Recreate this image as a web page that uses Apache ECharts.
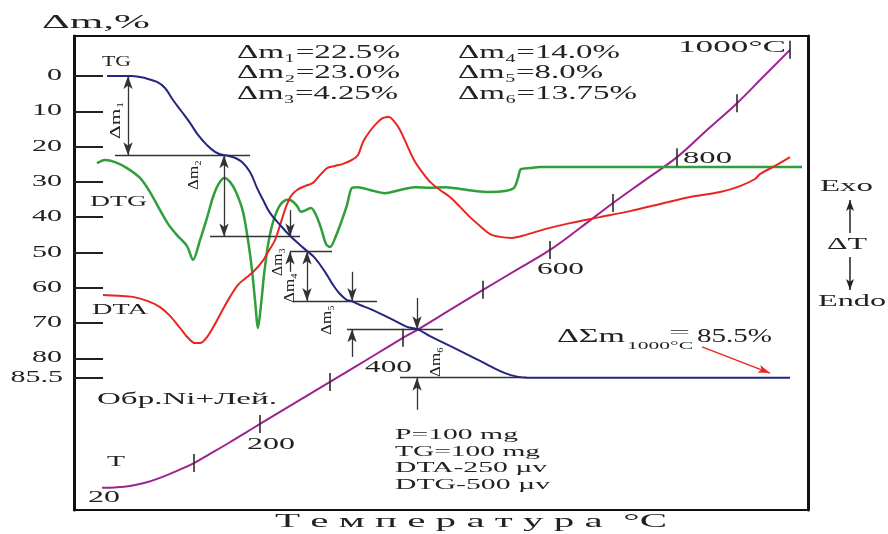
<!DOCTYPE html>
<html>
<head>
<meta charset="utf-8">
<script src="https://cdn.jsdelivr.net/npm/echarts@6/dist/echarts.min.js"></script>
<style>
  html, body { margin: 0; padding: 0; background: #fff; }
  #chart { width: 888px; height: 534px; }
</style>
</head>
<body>
<div id="chart"></div>
<script>
// x = position along the recorder paper, y = Δm scale (0 at top, 85.5 = total loss)
var tgX = [107,132,145,157,165,173,182,190,198,207,215,223,227,235,242,250,257,263,270,280,290,300,307,315,325,333,340,347,351,360,370,383,395,407,417,430,450,470,490,505,517,527,790];
var tgY = [0,0,0.6,1.7,3.4,6.8,10.2,13.3,16.7,19.6,21.5,22.4,22.5,23.2,24.4,27.2,31.7,35.1,38.8,42.2,45.3,47.9,49.6,51.6,55.5,59.2,61.8,63.5,63.75,64.9,66.0,67.7,69.4,71.1,71.75,73.7,76.5,79.3,82.2,84.2,85.2,85.5,85.5];

var dtgX = [97,105,115,127,140,150,160,168,177,187,193,200,207,213,218,224,230,236,243,248,252,255,258,261,264,268,273,280,287,292,297,301,306,311,316,321,326,330,336,342,347,352,358,370,385,400,415,430,445,460,475,490,505,514,518,521,530,540,600,802];
var dtgY = [24.7,23.8,24.4,26.1,28.9,32.9,38.0,41.9,45.1,48.2,52.1,46.5,40.2,34.3,30.9,28.9,30.0,32.9,38.5,46.5,55.0,63.5,71.4,64.9,56.4,47.9,41.4,36.6,35.1,35.4,36.8,38.5,38.0,37.4,39.4,43.1,47.6,48.5,45.3,40.8,36.6,31.7,31.5,32.3,33.2,32.3,31.5,31.7,31.5,32.0,32.6,32.9,32.6,31.7,28.9,26.4,26.1,25.8,25.8,25.8];

var dtaX = [103,118,133,148,160,170,180,188,195,200,207,214,222,230,238,247,255,262,268,275,281,286,291,297,305,313,320,327,335,343,352,358,363,370,377,383,389,394,400,407,414,422,430,440,450,460,470,480,490,500,512,525,545,570,600,630,660,690,720,740,755,760,775,790];
var dtaY = [62.1,62.3,62.6,63.8,65.5,68.0,71.4,74.2,75.7,75.7,74.0,70.8,66.6,62.6,59.2,57.0,55.0,52.7,49.9,46.5,41.4,37.1,34.0,32.3,31.2,30.3,28.1,26.1,25.5,24.9,23.8,22.4,18.7,15.6,13.3,11.9,11.6,12.8,15.3,19.6,23.8,27.2,30.0,32.3,34.3,37.1,40.0,42.5,44.8,45.6,45.9,45.1,43.4,41.7,40.0,38.3,36.3,34.3,32.9,31.2,29.2,27.8,25.5,23.0];

var tX = [102,115,130,145,160,177,194,210,227,245,260,300,330,360,403,417,450,483,517,550,580,613,645,677,707,737,763,790];
var tY = [116.7,116.6,116.2,115.3,113.9,111.9,109.7,107.1,104.3,101.2,98.6,91.8,86.7,81.6,74.2,72.0,66.3,60.6,54.9,49.3,43.1,36.0,29.5,23.0,15.3,7.7,0.3,-7.4];

// tick marks on the temperature curve (every 100 °C)
var tTickX = [194,260,330,403,483,550,613,677,737,790];
var tTickY = [109.7,98.6,86.7,74.2,60.6,49.3,36.0,23.0,7.7,-7.4];

var yTicks = [0,10,20,30,40,50,60,70,80,85.5];

// partial losses: level lines [y, xFrom, xTo]
var stepLines = [[22.5,115,250],[45.5,210,300],[49.75,290,332],[63.75,293,377],[71.75,347,443],[85.5,400,527]];
// double arrows [x, yFrom, yTo]
var dblArrows = [[128,0,22.5],[224,22.5,45.5],[307,49.75,63.75]];
// single arrows pointing at a level [x, yFrom, yTo]
var oneArrows = [[290,38.0,45.5],[290,55.5,49.75],[352,55.5,63.75],[352,79.6,71.75],[417,62.9,71.75],[417,94.6,85.5]];

function pairs(xs, ys) {
  return xs.map(function (x, i) { return [x, ys[i]]; });
}

var mlData = [];
stepLines.forEach(function (s) {
  mlData.push([{ coord: [s[1], s[0]], symbol: 'none' }, { coord: [s[2], s[0]], symbol: 'none' }]);
});
dblArrows.forEach(function (a) {
  mlData.push([{ coord: [a[0], a[1]], symbol: 'arrow' }, { coord: [a[0], a[2]], symbol: 'arrow' }]);
});
oneArrows.forEach(function (a) {
  mlData.push([{ coord: [a[0], a[1]], symbol: 'none' }, { coord: [a[0], a[2]], symbol: 'arrow' }]);
});

var serif = '"Liberation Serif", "DejaVu Serif", serif';
var ctx = document.createElement('canvas').getContext('2d');

function fit(str, left, right, cy, size) {
  var font = size + 'px ' + serif;
  ctx.font = font;
  var w = ctx.measureText(str).width;
  return {
    type: 'text', silent: true, z: 100,
    x: left, y: cy,
    scaleX: (right - left) / w,
    style: {
      text: str, font: font, fill: '#222',
      textAlign: 'left', align: 'left',
      textVerticalAlign: 'middle', verticalAlign: 'middle'
    }
  };
}

function rotLabel(str, cx, cy, len, size) {
  var font = size + 'px ' + serif;
  ctx.font = font;
  var w = ctx.measureText(str).width;
  return {
    type: 'text', silent: true, z: 100,
    x: cx, y: cy, rotation: Math.PI / 2,
    scaleX: len / w,
    style: {
      text: str, font: font, fill: '#222',
      textAlign: 'center', align: 'center',
      textVerticalAlign: 'middle', verticalAlign: 'middle'
    }
  };
}

var texts = [
  ['Δm,%', 42, 150, 23, 19],
  ['TG', 102, 131, 62, 14],
  ['DTG', 90, 147, 202, 14],
  ['DTA', 92, 148, 310, 14],
  ['Δm₁=22.5%', 237, 400, 53, 18],
  ['Δm₂=23.0%', 237, 400, 73, 18],
  ['Δm₃=4.25%', 237, 398, 94, 18],
  ['Δm₄=14.0%', 458, 620, 53, 18],
  ['Δm₅=8.0%', 458, 603, 73, 18],
  ['Δm₆=13.75%', 458, 637, 94, 18],
  ['1000°C', 678, 786, 48, 17],
  ['800', 683, 732, 159, 17],
  ['600', 537, 584, 270, 17],
  ['400', 365, 412, 368, 17],
  ['200', 247, 295, 445, 17],
  ['T', 107, 125, 462, 14],
  ['20', 88, 120, 498, 17],
  ['Обр.Ni+Лей.', 97, 277, 400, 16],
  ['P=100 mg', 395, 518, 435, 15],
  ['TG=100 mg', 395, 540, 452, 15],
  ['DTA-250 µv', 395, 547, 468, 15],
  ['DTG-500 µv', 395, 550, 485, 15],
  ['Т е м п е р а т у р а  °C', 275, 667, 522, 19],
  ['Exo', 820, 873, 187, 16],
  ['ΔT', 827, 867, 245, 16],
  ['Endo', 818, 886, 302, 16],
  ['ΔΣm', 557, 625, 337, 18],
  ['1000°C', 627, 693, 346, 11],
  ['=', 669, 690, 333, 14],
  ['85.5%', 697, 772, 337, 18]
];
var rotTexts = [
  ['Δm₁', 116, 120, 38],
  ['Δm₂', 194, 175, 30],
  ['Δm₃', 278, 262, 28],
  ['Δm₄', 290, 288, 30],
  ['Δm₅', 327, 320, 30],
  ['Δm₆', 436, 362, 30]
];

var chart = echarts.init(document.getElementById('chart'));
var option = {
  animation: false,
  backgroundColor: '#fff',
  grid: { left: 74, right: 80, top: 36, bottom: 24, show: true, borderColor: '#111', borderWidth: 2 },
  xAxis: {
    type: 'value', min: 74, max: 808,
    axisLine: { show: true, onZero: false, lineStyle: { color: '#111', width: 2 } },
    axisTick: { show: false }, axisLabel: { show: false }, splitLine: { show: false }
  },
  yAxis: [{
    type: 'value', inverse: true, min: -11.33, max: 123,
    axisLine: { show: true, onZero: false, lineStyle: { color: '#111', width: 3 } },
    axisTick: { show: true, inside: true, length: 29, customValues: yTicks, lineStyle: { color: '#222', width: 2 } },
    axisLabel: { show: false },
    splitLine: { show: false }
  }, {
    type: 'value', position: 'right', inverse: true, min: -11.33, max: 123,
    axisLine: { show: true, onZero: false, lineStyle: { color: '#111', width: 3 } },
    axisTick: { show: false }, axisLabel: { show: false }, splitLine: { show: false }
  }],
  series: [
    {
      name: 'T', type: 'line', data: pairs(tX, tY), smooth: 0.4,
      symbol: 'none', lineStyle: { color: '#9d2391', width: 2 }, z: 3
    },
    {
      name: 'DTG', type: 'line', data: pairs(dtgX, dtgY), smooth: 0.3,
      symbol: 'none', lineStyle: { color: '#2f9e3b', width: 2.5 }, z: 4
    },
    {
      name: 'DTA', type: 'line', data: pairs(dtaX, dtaY), smooth: 0.3,
      symbol: 'none', lineStyle: { color: '#e8251f', width: 2 }, z: 5
    },
    {
      name: 'TG', type: 'line', data: pairs(tgX, tgY), smooth: 0.4,
      symbol: 'none', lineStyle: { color: '#25257f', width: 2 }, z: 6
    },
    {
      name: 'T ticks', type: 'scatter', data: pairs(tTickX, tTickY),
      symbol: 'rect', symbolSize: [2, 18], itemStyle: { color: '#2a2a2a' }, z: 7, silent: true
    },
    {
      name: 'steps', type: 'line', data: [], silent: true,
      markLine: {
        silent: true, animation: false, symbolSize: [7, 13],
        label: { show: false },
        lineStyle: { color: '#333', width: 1.3, type: 'solid' },
        emphasis: { disabled: true },
        data: mlData
      }
    },
    {
      name: 'total', type: 'line', data: [], silent: true,
      markLine: {
        silent: true, animation: false, symbolSize: [6, 12],
        label: { show: false },
        lineStyle: { color: '#e8251f', width: 1.3, type: 'solid' },
        emphasis: { disabled: true },
        data: [
          [{ coord: [702, 76.8], symbol: 'none' }, { coord: [770, 84.2], symbol: 'arrow' }]
        ]
      }
    },
    {
      name: 'exo', type: 'line', data: [], silent: true,
      markLine: {
        silent: true, animation: false, symbolSize: [6, 11],
        label: { show: false },
        lineStyle: { color: '#222', width: 1.5, type: 'solid' },
        emphasis: { disabled: true },
        data: [
          [{ x: 850, y: 233, symbol: 'none' }, { x: 850, y: 200, symbol: 'arrow' }],
          [{ x: 850, y: 257, symbol: 'none' }, { x: 850, y: 290, symbol: 'arrow' }]
        ]
      }
    }
  ]
};
chart.setOption(option);

// stretched serif lettering, as in the original plot
var graphics = [];
ctx.font = '16px ' + serif;
var labScale = 30 / ctx.measureText('10').width;
yTicks.forEach(function (v) {
  var py = chart.convertToPixel({ yAxisIndex: 0 }, v);
  graphics.push({
    type: 'text', silent: true, z: 100,
    x: v === 85.5 ? 63 : 62, y: py, scaleX: labScale,
    style: {
      text: String(v), font: '16px ' + serif, fill: '#222',
      textAlign: 'right', align: 'right',
      textVerticalAlign: 'middle', verticalAlign: 'middle'
    }
  });
});
texts.forEach(function (t) { graphics.push(fit(t[0], t[1], t[2], t[3], t[4])); });
rotTexts.forEach(function (t) { graphics.push(rotLabel(t[0], t[1], t[2], t[3], 15)); });
chart.setOption({ graphic: { elements: graphics } });
</script>
</body>
</html>
